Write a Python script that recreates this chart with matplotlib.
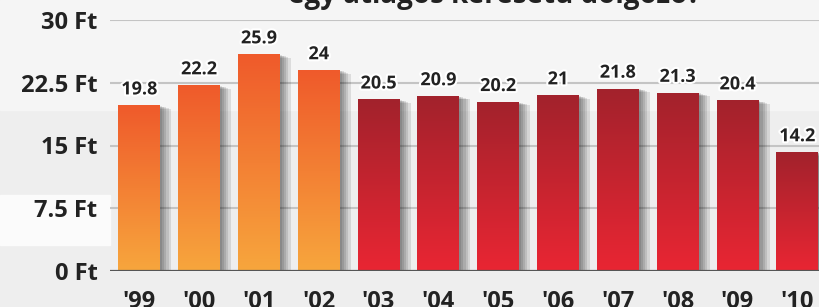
import numpy as np
import matplotlib
matplotlib.use("Agg")
import matplotlib.pyplot as plt
import matplotlib.patheffects as pe
from matplotlib.colors import LinearSegmentedColormap

years = ["'99", "'00", "'01", "'02", "'03", "'04", "'05", "'06", "'07", "'08", "'09", "'10"]
values = [19.8, 22.2, 25.9, 24, 20.5, 20.9, 20.2, 21, 21.8, 21.3, 20.4, 14.2]
value_labels = ["19.8", "22.2", "25.9", "24", "20.5", "20.9", "20.2", "21", "21.8", "21.3", "20.4", "14.2"]
yticks = [0, 7.5, 15, 22.5, 30]
ytick_labels = ["0 Ft", "7.5 Ft", "15 Ft", "22.5 Ft", "30 Ft"]
title = "egy átlagos keresetű dolgozó?"
n_orange = 4

plt.rcParams['font.family'] = ['Open Sans', 'DejaVu Sans']

W, H = 820, 307
fig = plt.figure(figsize=(W / 100, H / 100), dpi=100, facecolor='#eeeeee')
# subtle light background bands
fig.patches.append(plt.Rectangle((0, (H - 110) / H), 1, 110 / H, transform=fig.transFigure,
                                 color='#f5f5f5', zorder=-10))
fig.patches.append(plt.Rectangle((0, (H - 245) / H), 110 / W, 50 / H, transform=fig.transFigure,
                                 color='#fbfbfb', zorder=-10))

ax = fig.add_axes([110 / W, (H - 271) / H, 1 - 110 / W, (271 - 20) / H])
ax.set_facecolor('none')

x = np.arange(len(values))
ax.set_xlim(-0.49, 11.38)
ax.set_ylim(0, 30)

orange = LinearSegmentedColormap.from_list('o', ['#f7a63d', '#ef5a2b'])
red = LinearSegmentedColormap.from_list('r', ['#e92633', '#a2222c'])

shadow = [pe.SimplePatchShadow(offset=(d, -d * 0.3), shadow_rgbFace='#000000', alpha=0.10)
          for d in (8, 6, 4.5, 3, 1.5)]
bars = ax.bar(x, values, width=0.70, color='#e02a30', zorder=3,
              path_effects=shadow + [pe.Normal()])
grad = np.linspace(0, 1, 256).reshape(-1, 1)
for i, b in enumerate(bars):
    cmap = orange if i < n_orange else red
    x0 = b.get_x()
    w, h = b.get_width(), b.get_height()
    im = ax.imshow(grad, cmap=cmap, origin='lower', aspect='auto',
                   extent=[x0, x0 + w, 0, h], zorder=4, vmin=0, vmax=1)
    im.set_clip_path(b)

for xi, v, lab in zip(x, values, value_labels):
    ax.annotate(lab, (xi, v), xytext=(0, 5), textcoords='offset points',
                ha='center', va='bottom', fontsize=13, fontweight='bold', color='#222222',
                zorder=6,
                path_effects=[pe.withStroke(linewidth=3, foreground='white')])

ax.set_yticks(yticks)
ax.set_yticklabels(ytick_labels)
ax.set_xticks(x)
ax.set_xticklabels(years)
ax.tick_params(axis='y', length=0, pad=9, labelsize=17, labelcolor='#222222')
ax.tick_params(axis='x', length=0, pad=14, labelsize=17, labelcolor='#222222')
for lab in ax.get_yticklabels() + ax.get_xticklabels():
    lab.set_fontweight('bold')

for yv in yticks[1:]:
    ax.axhline(yv, color='#c4c4c4', lw=1.5, zorder=1)
ax.axhline(0, color='#555555', lw=1.6, zorder=5)
for s in ax.spines.values():
    s.set_visible(False)

fig.text(494 / W, (H - 3) / H, title, ha='center', va='baseline', fontsize=20,
         fontweight='bold', color='#222222')

fig.savefig('out.png', dpi=100, facecolor=fig.get_facecolor())
